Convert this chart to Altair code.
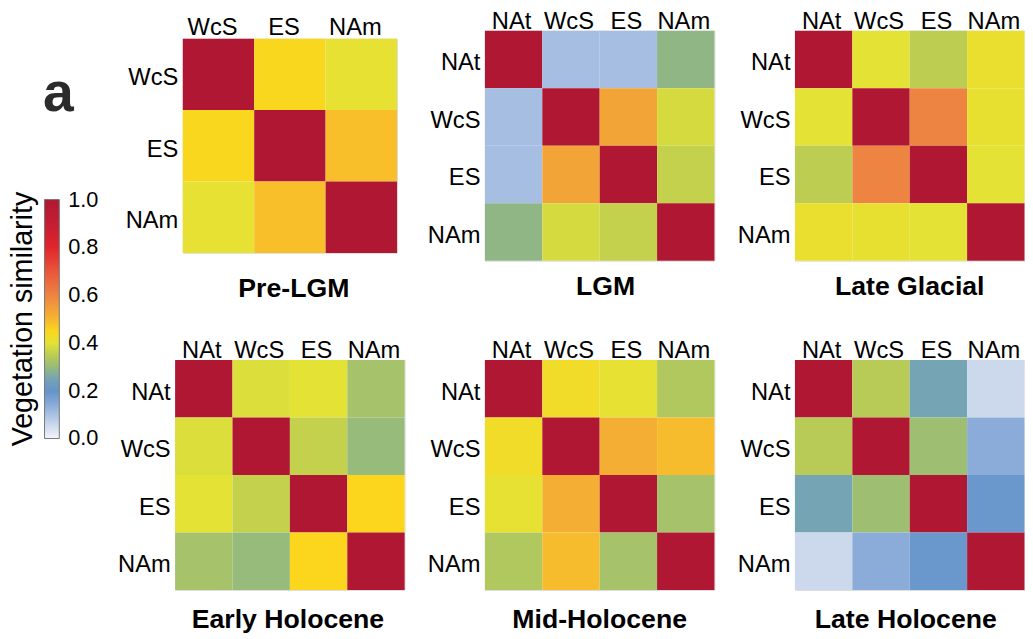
import altair as alt
import pandas as pd

FONT = "Liberation Sans"

REG4 = ["NAt", "WcS", "ES", "NAm"]
REG3 = ["WcS", "ES", "NAm"]

# similarity matrices (rows x cols, same order as region lists)
pre_lgm = [[1.0, 0.445, 0.405],
           [0.445, 1.0, 0.485],
           [0.405, 0.485, 1.0]]
lgm = [[1.0, 0.105, 0.105, 0.29],
       [0.105, 1.0, 0.535, 0.382],
       [0.105, 0.535, 1.0, 0.36],
       [0.29, 0.382, 0.36, 1.0]]
late_glacial = [[1.0, 0.40, 0.35, 0.415],
                [0.40, 1.0, 0.60, 0.41],
                [0.35, 0.60, 1.0, 0.40],
                [0.415, 0.41, 0.40, 1.0]]
early_holocene = [[1.0, 0.39, 0.40, 0.32],
                  [0.39, 1.0, 0.36, 0.30],
                  [0.40, 0.36, 1.0, 0.45],
                  [0.32, 0.30, 0.45, 1.0]]
mid_holocene = [[1.0, 0.425, 0.405, 0.335],
                [0.425, 1.0, 0.515, 0.49],
                [0.405, 0.515, 1.0, 0.32],
                [0.335, 0.49, 0.32, 1.0]]
late_holocene = [[1.0, 0.345, 0.25, 0.055],
                 [0.345, 1.0, 0.31, 0.14],
                 [0.25, 0.31, 1.0, 0.19],
                 [0.055, 0.14, 0.19, 1.0]]

# colour bar
CSTOPS = [0.0, 0.05, 0.10, 0.15, 0.20, 0.25, 0.30, 0.35, 0.40, 0.45,
          0.50, 0.55, 0.60, 0.70, 0.80, 0.90, 1.0]
CCOLORS = ["#f4f4f8", "#d0dcee", "#a9c1e2", "#83a7d6", "#6494c9", "#75a4b4",
           "#97bb7a", "#bccd52", "#e3e235", "#fcd61c", "#f6b531", "#f19c3a",
           "#ed8442", "#e9553a", "#e0252c", "#c41d33", "#b01733"]
# legend label positions (end values nudged inside so labels stay centred)
LEGEND_VALUES = [0.0005, 0.2, 0.4, 0.6, 0.8, 0.9995]

cscale = alt.Scale(domain=CSTOPS, range=CCOLORS, interpolate="rgb")
legend = alt.Legend(
    title="Vegetation similarity", orient="none", legendX=-168, legendY=171,
    direction="vertical", gradientLength=242, gradientThickness=15,
    gradientStrokeColor="#777777", gradientStrokeWidth=1,
    values=LEGEND_VALUES, format=".1f", labelFontSize=22, labelOffset=9,
    labelFont=FONT, labelColor="black", labelOverlap=False,
    titleOrient="left", titleAnchor="middle", titleFontSize=29,
    titleFontWeight="normal", titleFont=FONT, titleColor="black",
    titlePadding=6, titleLimit=600, padding=0,
)


def heat(name, regions, mat, w, h, pre=False, title_offset=14, title_dx=0):
    n = len(regions)
    df = pd.DataFrame([{"r": regions[i], "c": regions[j], "v": mat[i][j]}
                       for i in range(n) for j in range(n)])
    if pre:
        xlp, xlo = -0.4, -6
    else:
        xlp, xlo = -2.6, -2
    rect = alt.Chart(df).mark_rect().encode(
        x=alt.X("c:N", scale=alt.Scale(domain=regions, paddingInner=0, paddingOuter=0),
                axis=alt.Axis(orient="top", title=None, labelAngle=0, ticks=False,
                              domain=False, labelPadding=xlp, labelOffset=xlo,
                              labelFontSize=24, labelFont=FONT, labelColor="black")),
        y=alt.Y("r:N", scale=alt.Scale(domain=regions, paddingInner=0, paddingOuter=0),
                axis=alt.Axis(title=None, ticks=False, domain=False,
                              labelPadding=5, labelOffset=4,
                              labelFontSize=24, labelFont=FONT, labelColor="black")),
        color=alt.Color("v:Q", scale=cscale, legend=legend),
    )
    ch = rect
    if pre:
        letter = alt.Chart(pd.DataFrame({"t": ["a"]})).mark_text(
            font=FONT, fontSize=56, fontWeight="bold", color="#2b2b2b",
            align="center", baseline="alphabetic",
        ).encode(text="t:N", x=alt.value(-126), y=alt.value(73.7))
        ch = alt.layer(rect, letter)
    return ch.properties(
        width=w, height=h,
        title=alt.TitleParams(name, orient="bottom", fontSize=27, fontWeight="bold",
                              font=FONT, color="black", offset=title_offset,
                              anchor="middle", dx=title_dx),
    )


p1 = heat("Pre-LGM", REG3, pre_lgm, 217, 217, pre=True, title_offset=23.4, title_dx=4)
p2 = heat("LGM", REG4, lgm, 232.5, 233, title_offset=14, title_dx=6)
p3 = heat("Late Glacial", REG4, late_glacial, 232.5, 233, title_offset=14)
p4 = heat("Early Holocene", REG4, early_holocene, 232.5, 233, title_offset=18, title_dx=-2)
p5 = heat("Mid-Holocene", REG4, mid_holocene, 232.5, 233, title_offset=18)
p6 = heat("Late Holocene", REG4, late_holocene, 232.5, 233, title_offset=18, title_dx=-4)

chart = alt.concat(p1, p2, p3, p4, p5, p6, columns=3, spacing={"row": 100.4, "column": 81},
                   bounds="flush", center=True).properties(
    padding={"left": 1, "top": -3, "right": 0, "bottom": 0}
).configure_view(stroke=None).configure(background="white")

chart.save("out.html", embed_options={"renderer": "svg", "actions": False})
